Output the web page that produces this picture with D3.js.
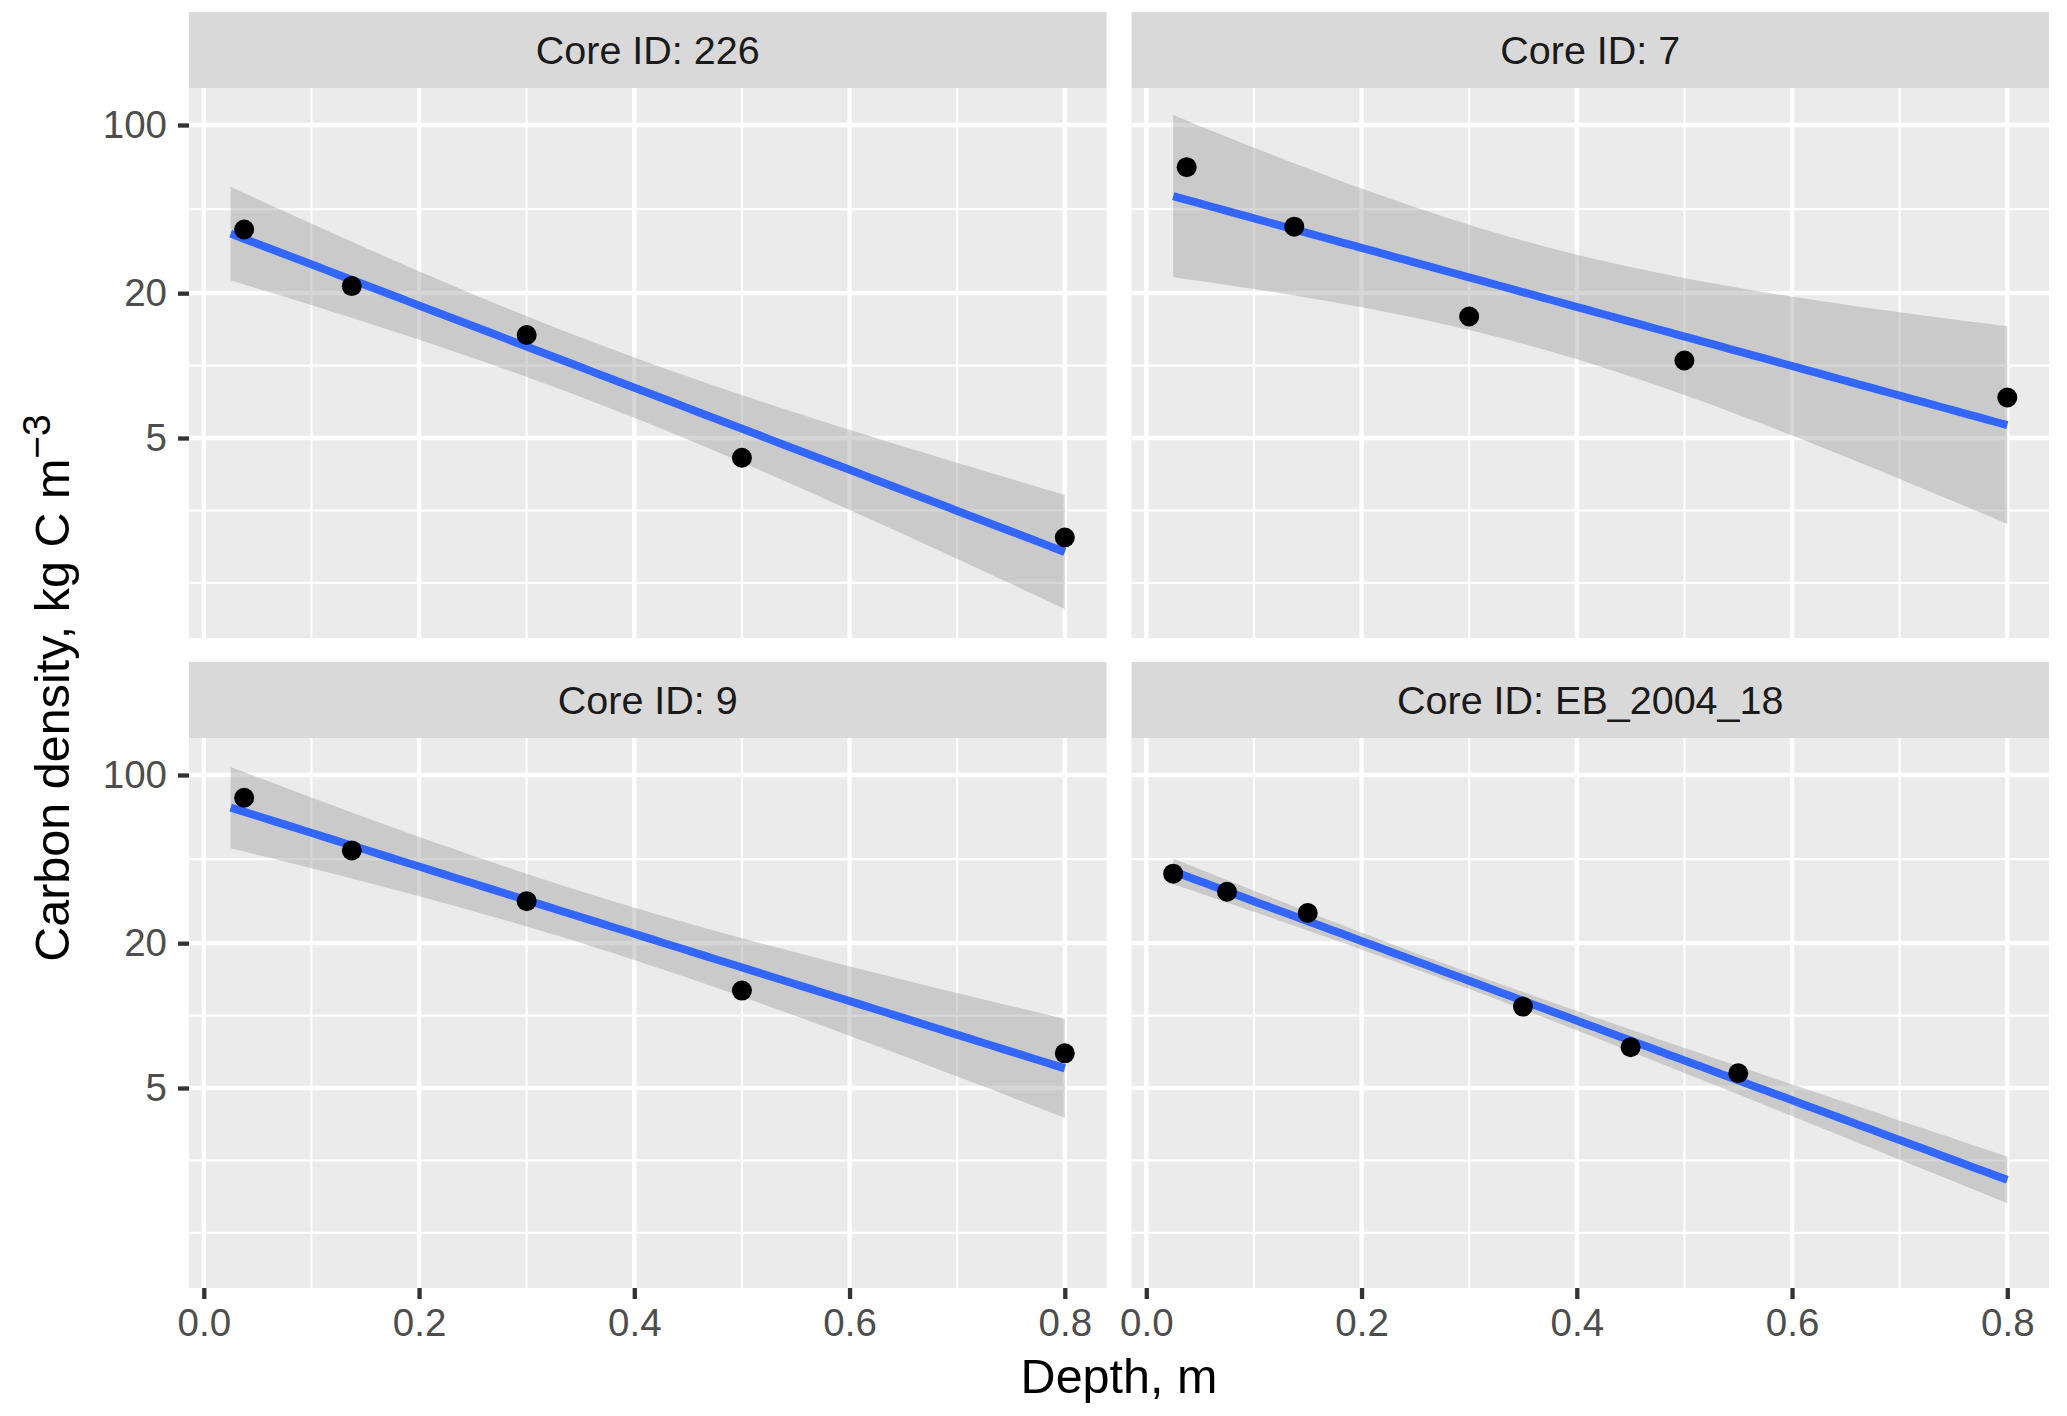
<!DOCTYPE html>
<html>
<head>
<meta charset="utf-8">
<script src="https://cdn.jsdelivr.net/npm/d3@7"></script>
<style>
  body { margin: 0; background: #fff; }
  text { font-family: "Liberation Sans", Arial, Helvetica, sans-serif; }
</style>
</head>
<body>
<div id="chart"></div>
<script>
(function() {

  // data
  var coreIds = ["226", "7", "9", "EB_2004_18"];

  var depth226 = [0.0375, 0.1375, 0.3, 0.5, 0.8];
  var carbon226 = [36.8, 21.4, 13.4, 4.14, 1.93];

  var depth7 = [0.0375, 0.1375, 0.3, 0.5, 0.8];
  var carbon7 = [66.8, 37.8, 16.0, 10.5, 7.37];

  var depth9 = [0.0375, 0.1375, 0.3, 0.5, 0.8];
  var carbon9 = [80.4, 48.6, 29.9, 12.7, 6.97];

  var depthEB = [0.025, 0.075, 0.15, 0.35, 0.45, 0.55];
  var carbonEB = [38.9, 32.7, 26.7, 10.9, 7.39, 5.76];

  var xTicks = [0, 0.2, 0.4, 0.6, 0.8];
  var xMinor = [0.1, 0.3, 0.5, 0.7];
  var yTicks = [5, 20, 100];
  var yMinor = [1.25, 2.5, 10, 44.72];
  var yDomain = [0.7375, 142.5];

  // 95% t quantiles by residual df
  var tQuant = { 3: 3.182446, 4: 2.776445 };

  var depths = [depth226, depth7, depth9, depthEB];
  var carbons = [carbon226, carbon7, carbon9, carbonEB];

  var width = 2067, height = 1416;
  var left = 189, top = 12,
      panelW = 917.5, panelH = 550, stripH = 76,
      colGap = 25, rowGap = 24;

  var allDepth = d3.merge(depths);
  var xMin = d3.min(allDepth), xMax = d3.max(allDepth);
  var xPad = (xMax - xMin) * 0.05;

  var x = d3.scaleLinear().domain([xMin - xPad, xMax + xPad]).range([0, panelW]);
  var y = d3.scaleLog().domain(yDomain).range([panelH, 0]);

  var svg = d3.select("#chart")
    .append("svg")
    .attr("width", width)
    .attr("height", height);

  function fitLm(xs, ys) {
    var n = xs.length;
    var ly = ys.map(function(v) { return Math.log10(v); });
    var xbar = d3.mean(xs), ybar = d3.mean(ly);
    var sxx = 0, sxy = 0;
    for (var i = 0; i < n; i++) {
      sxx += (xs[i] - xbar) * (xs[i] - xbar);
      sxy += (xs[i] - xbar) * (ly[i] - ybar);
    }
    var b = sxy / sxx, a = ybar - b * xbar;
    var rss = 0;
    for (var j = 0; j < n; j++) {
      var r = ly[j] - (a + b * xs[j]);
      rss += r * r;
    }
    var s = Math.sqrt(rss / (n - 2));
    var t = tQuant[n - 2];
    return function(xv) {
      var f = a + b * xv;
      var se = s * Math.sqrt(1 / n + (xv - xbar) * (xv - xbar) / sxx);
      return { x: xv, fit: Math.pow(10, f), lo: Math.pow(10, f - t * se), hi: Math.pow(10, f + t * se) };
    };
  }

  var xs = d3.range(80).map(function(i) { return xMin + (xMax - xMin) * i / 79; });

  coreIds.forEach(function(id, i) {
    var col = i % 2, row = Math.floor(i / 2);
    var px = left + col * (panelW + colGap);
    var py = top + row * (stripH + panelH + rowGap);

    var strip = svg.append("g").attr("transform", "translate(" + px + "," + py + ")");
    strip.append("rect")
      .attr("width", panelW).attr("height", stripH)
      .attr("fill", "#d9d9d9");
    strip.append("text")
      .attr("x", panelW / 2).attr("y", stripH / 2 + 14)
      .attr("text-anchor", "middle")
      .attr("font-size", 39.5)
      .attr("fill", "#1a1a1a")
      .text("Core ID: " + id);

    var g = svg.append("g").attr("transform", "translate(" + px + "," + (py + stripH) + ")");
    g.append("rect")
      .attr("width", panelW).attr("height", panelH)
      .attr("fill", "#ebebeb");

    g.selectAll(".ymin").data(yMinor).enter().append("line")
      .attr("x1", 0).attr("x2", panelW)
      .attr("y1", function(d) { return y(d); }).attr("y2", function(d) { return y(d); })
      .attr("stroke", "#fff").attr("stroke-width", 2.1);
    g.selectAll(".xmin").data(xMinor).enter().append("line")
      .attr("y1", 0).attr("y2", panelH)
      .attr("x1", function(d) { return x(d); }).attr("x2", function(d) { return x(d); })
      .attr("stroke", "#fff").attr("stroke-width", 2.1);
    g.selectAll(".ymaj").data(yTicks).enter().append("line")
      .attr("x1", 0).attr("x2", panelW)
      .attr("y1", function(d) { return y(d); }).attr("y2", function(d) { return y(d); })
      .attr("stroke", "#fff").attr("stroke-width", 4.3);
    g.selectAll(".xmaj").data(xTicks).enter().append("line")
      .attr("y1", 0).attr("y2", panelH)
      .attr("x1", function(d) { return x(d); }).attr("x2", function(d) { return x(d); })
      .attr("stroke", "#fff").attr("stroke-width", 4.3);

    var model = fitLm(depths[i], carbons[i]);
    var smooth = xs.map(model);

    g.append("path")
      .datum(smooth)
      .attr("d", d3.area()
        .x(function(d) { return x(d.x); })
        .y0(function(d) { return y(d.lo); })
        .y1(function(d) { return y(d.hi); }))
      .attr("fill", "#999999")
      .attr("fill-opacity", 0.4);

    g.append("path")
      .datum(smooth)
      .attr("d", d3.line()
        .x(function(d) { return x(d.x); })
        .y(function(d) { return y(d.fit); }))
      .attr("fill", "none")
      .attr("stroke", "#3366FF")
      .attr("stroke-width", 8);

    g.selectAll("circle")
      .data(depths[i].map(function(d, k) { return [d, carbons[i][k]]; }))
      .enter().append("circle")
      .attr("cx", function(d) { return x(d[0]); })
      .attr("cy", function(d) { return y(d[1]); })
      .attr("r", 10)
      .attr("fill", "#000");

    if (col === 0) {
      var ya = g.append("g")
        .call(d3.axisLeft(y).tickValues(yTicks).tickFormat(d3.format("d")).tickSize(11).tickPadding(11));
      styleAxis(ya);
    }
    if (row === 1) {
      var xa = g.append("g")
        .attr("transform", "translate(0," + panelH + ")")
        .call(d3.axisBottom(x).tickValues(xTicks).tickFormat(d3.format(".1f")).tickSize(11).tickPadding(10));
      styleAxis(xa);
    }
  });

  function styleAxis(a) {
    a.select(".domain").remove();
    a.selectAll("line").attr("stroke", "#333333").attr("stroke-width", 4.3);
    a.selectAll("text")
      .attr("font-size", 38.5)
      .attr("fill", "#4d4d4d")
      .style("font-family", "'Liberation Sans', Arial, Helvetica, sans-serif");
  }

  // axis titles
  svg.append("text")
    .attr("x", left + panelW + colGap / 2)
    .attr("y", 1393)
    .attr("text-anchor", "middle")
    .attr("font-size", 48.5)
    .attr("fill", "#000")
    .text("Depth, m");

  var yt = svg.append("text")
    .attr("transform", "translate(69," + (top + stripH + (panelH * 2 + stripH + rowGap) / 2) + ") rotate(-90)")
    .attr("text-anchor", "middle")
    .attr("font-size", 48.5)
    .attr("fill", "#000");
  yt.append("tspan").text("Carbon density, kg C m");
  yt.append("tspan").attr("font-size", 39).attr("dy", -19).text("\u22123");

})();
</script>
</body>
</html>
